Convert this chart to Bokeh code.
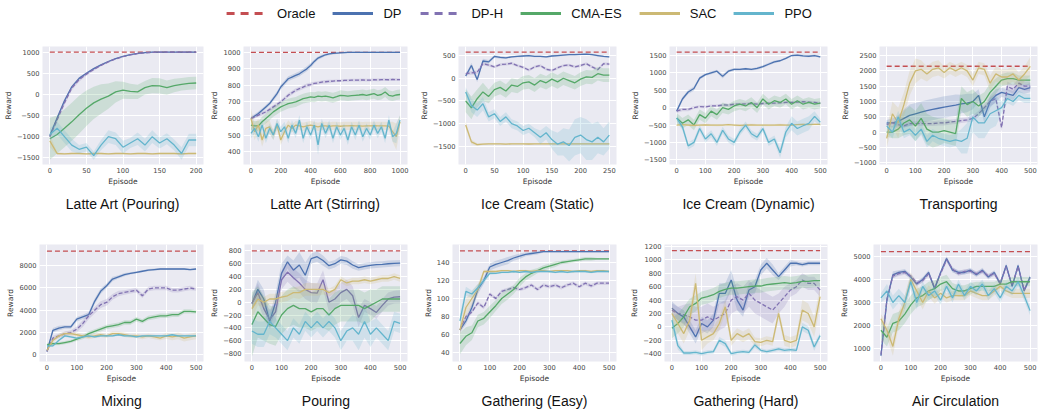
import numpy as np
from bokeh.plotting import figure
from bokeh.models import FixedTicker, Legend, LegendItem, Range1d
from bokeh.layouts import column, row
from bokeh.embed import file_html
from bokeh.resources import INLINE

METHODS = ["Oracle", "DP", "DP-H", "CMA-ES", "SAC", "PPO"]

# ---------------- Latte Art (Pouring) ----------------
LAP_X = list(range(0, 201, 10))
LAP_ORACLE = 1000
LAP_DP = [-980, -560, -150, 180, 380, 500, 610, 700, 780, 850, 900, 940, 970, 990, 1000, 1000, 1000, 1000, 1000, 1000, 1000]
LAP_DP_SD = [40, 40, 40, 30, 30, 25, 20, 20, 15, 15, 10, 10, 8, 5, 5, 5, 5, 5, 5, 5, 5]
LAP_DPH = [-1000, -600, -200, 150, 350, 480, 590, 690, 770, 840, 895, 935, 965, 985, 995, 1000, 1000, 1000, 1000, 1000, 1000]
LAP_DPH_SD = [60, 60, 60, 50, 50, 40, 30, 25, 20, 15, 12, 10, 8, 5, 5, 5, 5, 5, 5, 5, 5]
LAP_CMA = [-1050, -950, -800, -650, -480, -330, -200, -110, -40, 60, 100, 70, 60, 160, 210, 200, 160, 210, 240, 260, 270]
LAP_CMA_SD = [500, 450, 450, 450, 450, 420, 380, 350, 300, 250, 200, 180, 170, 160, 180, 180, 170, 160, 150, 150, 150]
LAP_SAC = [-1100, -1400, -1410, -1400, -1400, -1410, -1400, -1400, -1410, -1400, -1400, -1410, -1400, -1400, -1410, -1400, -1400, -1400, -1410, -1400, -1400]
LAP_SAC_SD = [150, 30, 20, 20, 20, 20, 20, 20, 20, 20, 20, 20, 20, 20, 20, 20, 20, 20, 20, 20, 20]
LAP_PPO = [-950, -800, -1000, -1200, -1300, -1250, -1450, -1200, -1000, -1050, -1250, -1150, -1050, -1200, -1000, -1150, -1050, -1200, -1400, -1080, -1080]
LAP_PPO_SD = [150, 150, 150, 150, 100, 100, 100, 120, 150, 150, 150, 120, 150, 150, 150, 130, 130, 130, 150, 150, 150]
LAP_XTICKS = [0, 50, 100, 150, 200]
LAP_YTICKS = [-1500, -1000, -500, 0, 500, 1000]

# ---------------- Latte Art (Stirring) ----------------
LAS_X = list(range(0, 1001, 25))
LAS_ORACLE = 1000
LAS_DP = [600, 615, 630, 650, 670, 690, 720, 750, 790, 815, 840, 850, 860, 870, 885, 900, 920, 945, 965, 975, 985, 990, 993, 995, 997, 998, 999, 1000, 1000, 1000, 1000, 1000, 1000, 1000, 1000, 1000, 1000, 1000, 1000, 1000, 1000]
LAS_DP_SD = [12, 12, 12, 12, 12, 12, 15, 15, 15, 15, 15, 15, 15, 15, 15, 15, 15, 12, 10, 10, 8, 8, 6, 6, 5, 5, 5, 5, 5, 5, 5, 5, 5, 5, 5, 5, 5, 5, 5, 5, 5]
LAS_DPH = [600, 610, 620, 630, 640, 655, 670, 685, 700, 720, 740, 755, 770, 780, 790, 800, 805, 812, 815, 820, 822, 824, 826, 828, 828, 830, 830, 832, 832, 832, 833, 832, 832, 834, 833, 835, 835, 834, 836, 835, 835]
LAS_DPH_SD = [10, 10, 10, 10, 10, 12, 12, 12, 12, 12, 12, 12, 12, 12, 12, 12, 12, 10, 10, 10, 10, 10, 8, 8, 8, 8, 8, 8, 8, 8, 8, 8, 8, 8, 8, 8, 8, 8, 8, 8, 8]
LAS_CMA = [560, 555, 555, 580, 600, 620, 640, 655, 670, 680, 690, 695, 700, 710, 720, 725, 730, 728, 735, 732, 735, 730, 725, 732, 740, 738, 735, 738, 740, 742, 745, 740, 745, 750, 740, 745, 760, 740, 735, 742, 745]
LAS_CMA_SD = [30, 30, 30, 30, 30, 30, 30, 30, 30, 30, 30, 30, 30, 30, 30, 30, 30, 30, 30, 30, 30, 30, 30, 30, 30, 30, 30, 30, 30, 30, 30, 30, 30, 30, 30, 30, 30, 30, 30, 30, 30]
LAS_SAC = [600, 520, 560, 470, 540, 550, 500, 560, 470, 520, 560, 540, 560, 555, 550, 555, 560, 555, 550, 555, 555, 552, 555, 555, 553, 555, 555, 556, 555, 555, 554, 555, 555, 556, 555, 555, 555, 554, 520, 490, 580]
LAS_SAC_SD = [60, 50, 40, 40, 40, 40, 30, 30, 30, 30, 30, 25, 25, 25, 25, 25, 25, 25, 25, 25, 25, 25, 25, 25, 25, 25, 25, 25, 25, 25, 25, 25, 25, 25, 25, 25, 25, 25, 60, 80, 40]
LAS_PPO = [510, 540, 490, 560, 480, 540, 500, 570, 520, 550, 480, 560, 510, 590, 480, 550, 500, 560, 440, 570, 510, 560, 480, 550, 500, 540, 470, 550, 500, 560, 490, 540, 500, 560, 510, 550, 480, 590, 490, 510, 590]
LAS_PPO_SD = [30, 30, 30, 30, 30, 30, 30, 30, 30, 30, 30, 30, 30, 30, 30, 30, 30, 30, 60, 30, 30, 30, 30, 30, 30, 30, 30, 30, 30, 30, 30, 30, 30, 30, 30, 30, 30, 30, 30, 60, 30]
LAS_XTICKS = [0, 200, 400, 600, 800, 1000]
LAS_YTICKS = [400, 500, 600, 700, 800, 900, 1000]

# ---------------- Ice Cream (Static) ----------------
ICS_X = list(range(0, 251, 10))
ICS_ORACLE = 575
ICS_DP = [50, 280, -30, 380, 360, 480, 460, 450, 470, 480, 490, 500, 480, 480, 470, 490, 500, 510, 520, 520, 525, 530, 520, 500, 480, 470]
ICS_DP_SD = [40, 60, 60, 50, 40, 30, 30, 20, 20, 20, 20, 20, 20, 20, 20, 20, 20, 20, 20, 20, 20, 20, 20, 20, 20, 20]
ICS_DPH = [100, 120, 130, 320, 290, 250, 300, 310, 330, 280, 240, 180, 250, 280, 200, 170, 230, 280, 290, 250, 280, 320, 250, 190, 320, 310]
ICS_DPH_SD = [40, 40, 40, 40, 30, 30, 30, 30, 30, 30, 30, 30, 30, 30, 30, 30, 30, 30, 30, 30, 30, 30, 30, 30, 30, 30]
ICS_CMA = [-500, -650, -450, -300, -400, -250, -200, -280, -150, -180, -100, -80, -150, -50, -100, -20, -80, 0, -50, -100, -20, 30, 20, 100, 70, 70]
ICS_CMA_SD = [250, 250, 200, 200, 150, 150, 150, 150, 150, 150, 150, 150, 150, 150, 150, 150, 150, 150, 150, 150, 150, 150, 150, 150, 150, 150]
ICS_SAC = [-1030, -1400, -1460, -1450, -1445, -1445, -1445, -1448, -1445, -1445, -1445, -1447, -1445, -1445, -1445, -1446, -1445, -1445, -1445, -1445, -1446, -1445, -1445, -1445, -1445, -1445]
ICS_SAC_SD = [80, 50, 30, 20, 20, 20, 20, 20, 20, 20, 20, 20, 20, 20, 20, 20, 20, 20, 20, 20, 20, 20, 20, 20, 20, 20]
ICS_PPO = [-300, -600, -700, -560, -850, -780, -950, -850, -1000, -1050, -1150, -1100, -1200, -1300, -1200, -1350, -1450, -1400, -1480, -1300, -1250, -1350, -1400, -1300, -1400, -1250]
ICS_PPO_SD = [100, 150, 150, 150, 100, 100, 100, 100, 100, 100, 100, 100, 100, 150, 150, 200, 250, 300, 350, 400, 400, 450, 400, 350, 300, 300]
ICS_XTICKS = [0, 50, 100, 150, 200, 250]
ICS_YTICKS = [-1500, -1000, -500, 0, 500]

# ---------------- Ice Cream (Dynamic) ----------------
ICD_X = list(range(0, 501, 20))
ICD_ORACLE = 1600
ICD_DP = [-100, 250, 450, 550, 850, 950, 1000, 1050, 900, 1050, 1100, 1100, 1120, 1100, 1130, 1180, 1250, 1320, 1350, 1420, 1500, 1510, 1490, 1480, 1500, 1460]
ICD_DP_SD = [60, 60, 60, 60, 50, 40, 40, 40, 60, 40, 40, 30, 30, 30, 40, 40, 40, 40, 30, 30, 30, 30, 30, 30, 30, 30]
ICD_DPH = [-100, -50, -50, 0, 30, 20, 50, 50, 80, 70, 100, 100, 110, 120, 100, 120, 130, 130, 140, 150, 150, 160, 170, 160, 150, 130]
ICD_DPH_SD = [50, 50, 50, 40, 40, 40, 40, 40, 40, 40, 40, 40, 40, 40, 40, 40, 40, 40, 40, 40, 40, 40, 40, 40, 40, 40]
ICD_CMA = [-300, -450, -350, -500, -200, -300, -100, -200, 0, -50, 50, 100, 50, 150, 0, 250, 100, 200, 150, 250, 100, 200, 100, 150, 100, 130]
ICD_CMA_SD = [150, 150, 150, 150, 150, 150, 150, 150, 150, 150, 150, 150, 150, 150, 150, 150, 150, 150, 150, 150, 150, 150, 150, 150, 150, 150]
ICD_SAC = [-500, -490, -500, -510, -500, -495, -500, -505, -500, -490, -500, -510, -500, -495, -500, -500, -505, -500, -495, -500, -500, -490, -480, -485, -480, -480]
ICD_SAC_SD = [30, 30, 30, 30, 30, 30, 30, 30, 30, 30, 30, 30, 30, 30, 30, 30, 30, 30, 30, 30, 30, 30, 30, 30, 30, 30]
ICD_PPO = [-300, -550, -1100, -1000, -600, -900, -750, -1000, -650, -900, -1000, -700, -500, -750, -850, -600, -1000, -900, -1300, -700, -450, -600, -520, -450, -250, -420]
ICD_PPO_SD = [100, 100, 100, 100, 100, 100, 100, 100, 100, 100, 100, 100, 100, 100, 100, 100, 100, 100, 150, 150, 200, 200, 200, 200, 150, 100]
ICD_XTICKS = [0, 100, 200, 300, 400, 500]
ICD_YTICKS = [-1500, -1000, -500, 0, 500, 1000, 1500]

# ---------------- Transporting ----------------
TRN_X = list(range(0, 501, 20))
TRN_ORACLE = 2150
TRN_DP = [300, 300, 350, 450, 550, 600, 650, 700, 740, 780, 820, 850, 880, 920, 950, 1000, 1200, 500, 1000, 1200, 1300, 1250, 1200, 1450, 1400, 1450]
TRN_DP_SD = [100, 150, 200, 300, 350, 350, 350, 350, 350, 350, 350, 350, 350, 300, 300, 250, 200, 200, 200, 200, 150, 150, 150, 150, 150, 150]
TRN_DPH = [250, 300, 250, 200, 280, 280, 280, 280, 280, 300, 300, 330, 350, 380, 400, 450, 600, 800, 1000, 1100, 150, 1500, 1400, 1600, 1500, 1500]
TRN_DPH_SD = [50, 50, 50, 50, 80, 80, 80, 80, 80, 80, 80, 80, 80, 80, 80, 100, 100, 100, 150, 150, 150, 150, 150, 150, 150, 150]
TRN_CMA = [0, 0, 100, 300, 400, 200, 450, 100, 0, 0, 50, 0, -50, 1100, 900, 1000, 850, 1000, 1300, 1500, 1700, 1750, 1750, 1700, 1700, 1700]
TRN_CMA_SD = [150, 200, 300, 400, 450, 500, 500, 500, 500, 450, 400, 400, 400, 400, 400, 400, 350, 300, 300, 250, 200, 200, 200, 150, 150, 150]
TRN_SAC = [-200, 600, 300, 900, 1600, 2000, 2050, 1900, 2050, 2100, 1950, 2100, 2000, 2100, 2000, 1700, 2100, 2050, 1600, 1900, 1800, 1800, 1900, 1700, 1900, 2150]
TRN_SAC_SD = [300, 400, 500, 400, 400, 400, 300, 250, 250, 250, 200, 200, 200, 200, 200, 200, 200, 200, 250, 250, 250, 250, 250, 250, 250, 300]
TRN_PPO = [200, 0, 500, 0, 100, -100, 100, -300, -100, -200, -250, -300, -250, -300, -200, 500, 300, 300, 600, 700, 800, 1100, 1000, 1200, 1100, 1100]
TRN_PPO_SD = [200, 200, 200, 200, 200, 200, 200, 200, 200, 200, 200, 200, 200, 400, 500, 500, 500, 500, 500, 500, 200, 150, 150, 150, 150, 150]
TRN_XTICKS = [0, 100, 200, 300, 400, 500]
TRN_YTICKS = [-1000, -500, 0, 500, 1000, 1500, 2000, 2500]

# ---------------- Mixing ----------------
MIX_X = list(range(0, 501, 20))
MIX_ORACLE = 9300
MIX_DP = [300, 2200, 2400, 2500, 2500, 3200, 3400, 3600, 4800, 5700, 6200, 6800, 7000, 7200, 7300, 7400, 7500, 7600, 7650, 7700, 7700, 7700, 7700, 7700, 7650, 7700]
MIX_DP_SD = [100, 200, 200, 150, 150, 200, 200, 250, 250, 250, 200, 200, 150, 150, 100, 100, 100, 100, 100, 80, 80, 80, 80, 80, 80, 80]
MIX_DPH = [300, 1500, 1700, 1900, 2000, 2300, 2800, 3500, 4000, 4500, 4700, 5200, 5500, 5600, 5700, 5800, 5300, 5900, 6000, 6000, 6000, 5800, 5800, 5900, 6000, 5900]
MIX_DPH_SD = [100, 200, 200, 200, 200, 250, 300, 300, 300, 300, 300, 250, 250, 200, 200, 200, 200, 200, 200, 200, 200, 200, 200, 200, 200, 150]
MIX_CMA = [900, 1000, 1000, 1100, 1200, 1400, 1600, 1900, 2100, 2300, 2500, 2600, 2700, 2900, 2900, 3200, 3000, 3300, 3400, 3500, 3500, 3600, 3600, 3900, 3900, 3850]
MIX_CMA_SD = [150, 150, 150, 150, 150, 150, 200, 200, 200, 200, 200, 200, 200, 200, 200, 200, 200, 200, 200, 200, 200, 200, 200, 200, 200, 150]
MIX_SAC = [400, 1300, 1700, 1900, 1900, 1800, 1700, 1600, 1700, 1800, 1700, 1900, 1900, 1800, 1700, 1700, 1600, 1700, 1600, 1500, 1700, 1600, 1700, 1500, 1600, 1700]
MIX_SAC_SD = [150, 200, 200, 200, 200, 200, 200, 200, 200, 200, 200, 200, 200, 200, 200, 200, 200, 200, 200, 200, 250, 300, 300, 300, 300, 300]
MIX_PPO = [800, 800, 1300, 1700, 1600, 1500, 1600, 1700, 1600, 1700, 1700, 1700, 1800, 1700, 1700, 1600, 1700, 1700, 1700, 1700, 1700, 1800, 1700, 1700, 1700, 1700]
MIX_PPO_SD = [100, 100, 100, 100, 100, 100, 100, 100, 100, 100, 100, 100, 100, 100, 100, 100, 100, 100, 100, 100, 100, 100, 100, 100, 100, 100]
MIX_XTICKS = [0, 100, 200, 300, 400, 500]
MIX_YTICKS = [0, 2000, 4000, 6000, 8000]

# ---------------- Pouring ----------------
POU_X = list(range(0, 501, 20))
POU_ORACLE = 800
POU_DP = [-20, 200, 50, -300, 0, 450, 630, 500, 580, 420, 680, 710, 650, 570, 600, 660, 640, 580, 540, 560, 575, 585, 590, 600, 605, 610]
POU_DP_SD = [100, 150, 150, 100, 150, 150, 100, 150, 200, 200, 80, 80, 80, 60, 60, 60, 60, 60, 50, 50, 50, 50, 50, 50, 50, 50]
POU_DPH = [-20, 150, -100, -270, -150, 350, 470, 380, 300, 200, 150, 140, 350, 0, 50, 150, 200, 100, -240, -50, -100, -160, -50, 50, 80, 85]
POU_DPH_SD = [100, 150, 150, 150, 150, 150, 150, 150, 150, 150, 150, 150, 150, 150, 150, 150, 150, 150, 150, 100, 100, 100, 100, 100, 100, 100]
POU_CMA = [-350, -150, -250, -350, -380, -200, -100, -50, -100, -100, -150, -100, -100, -200, -100, -50, -50, -50, -50, -100, -50, 0, 50, 50, 50, 50]
POU_CMA_SD = [500, 400, 350, 300, 300, 300, 300, 300, 300, 300, 300, 300, 300, 250, 250, 250, 250, 250, 250, 250, 250, 200, 200, 200, 200, 200]
POU_SAC = [-100, 50, 0, 50, 50, 80, 100, 150, 150, 200, 200, 200, 200, 150, 200, 350, 300, 330, 330, 350, 330, 350, 370, 370, 400, 370]
POU_SAC_SD = [150, 100, 80, 80, 80, 80, 80, 80, 100, 100, 100, 100, 80, 60, 60, 50, 50, 50, 50, 50, 50, 50, 50, 50, 50, 50]
POU_PPO = [-450, -500, -500, -300, -400, -500, -600, -400, -500, -300, -400, -300, -400, -300, -400, -600, -450, -400, -500, -300, -500, -400, -500, -600, -300, -330]
POU_PPO_SD = [200, 200, 200, 200, 150, 150, 150, 150, 150, 150, 150, 150, 150, 150, 150, 150, 150, 200, 250, 250, 200, 150, 150, 150, 150, 150]
POU_XTICKS = [0, 100, 200, 300, 400, 500]
POU_YTICKS = [-800, -600, -400, -200, 0, 200, 400, 600, 800]

# ---------------- Gathering (Easy) ----------------
GAE_X = list(range(0, 501, 20))
GAE_ORACLE = 153
GAE_DP = [65, 75, 90, 110, 120, 135, 138, 140, 142, 145, 147, 149, 150, 151, 152, 152, 152, 152, 152, 152, 152, 152, 152, 152, 152, 152]
GAE_DP_SD = [3, 4, 5, 5, 4, 4, 4, 4, 4, 3, 3, 2, 2, 2, 1, 1, 1, 1, 1, 1, 1, 1, 1, 1, 1, 1]
GAE_DPH = [65, 80, 85, 95, 90, 105, 100, 108, 110, 112, 110, 112, 115, 110, 115, 113, 115, 112, 115, 117, 113, 117, 114, 117, 117, 117]
GAE_DPH_SD = [2, 2, 2, 2, 2, 2, 2, 2, 2, 2, 2, 2, 2, 2, 2, 2, 2, 2, 2, 2, 2, 2, 2, 2, 2, 2]
GAE_CMA = [50, 58, 62, 75, 78, 85, 92, 100, 105, 110, 118, 124, 128, 131, 134, 136, 138, 140, 141, 142, 143, 144, 144, 144, 144, 144]
GAE_CMA_SD = [12, 10, 8, 7, 7, 7, 6, 6, 6, 5, 5, 4, 4, 3, 3, 3, 3, 2, 2, 2, 2, 2, 2, 1, 1, 1]
GAE_SAC = [65, 90, 100, 110, 130, 130, 130, 131, 131, 130, 131, 131, 130, 131, 131, 130, 131, 131, 131, 130, 131, 131, 130, 131, 131, 130]
GAE_SAC_SD = [5, 10, 8, 6, 2, 2, 1, 1, 1, 1, 1, 1, 1, 1, 1, 1, 1, 1, 1, 1, 1, 1, 1, 1, 1, 1]
GAE_PPO = [75, 108, 105, 112, 120, 128, 128, 129, 129, 130, 129, 130, 129, 130, 130, 130, 129, 130, 129, 130, 130, 130, 129, 130, 130, 130]
GAE_PPO_SD = [8, 5, 4, 4, 3, 2, 1, 1, 1, 1, 1, 1, 1, 1, 1, 1, 1, 1, 1, 1, 1, 1, 1, 1, 1, 1]
GAE_XTICKS = [0, 100, 200, 300, 400, 500]
GAE_YTICKS = [40, 60, 80, 100, 120, 140]

# ---------------- Gathering (Hard) ----------------
GAH_X = list(range(0, 501, 20))
GAH_ORACLE = 1140
GAH_DP = [280, 200, 150, 0, -150, 50, 0, 100, 500, 500, 700, 400, 250, 550, 600, 850, 950, 850, 750, 850, 950, 950, 930, 950, 950, 950]
GAH_DP_SD = [100, 100, 100, 100, 100, 100, 100, 100, 150, 150, 150, 150, 100, 100, 100, 80, 80, 80, 50, 50, 50, 30, 30, 30, 30, 30]
GAH_DPH = [250, 200, 180, 150, 100, 100, 150, 100, 150, 200, 400, 450, 400, 500, 400, 350, 300, 250, 350, 450, 550, 600, 700, 650, 650, 550]
GAH_DPH_SD = [100, 100, 150, 200, 200, 200, 200, 200, 200, 200, 200, 200, 200, 200, 200, 200, 200, 200, 150, 150, 100, 100, 100, 100, 100, 100]
GAH_CMA = [-20, 50, 150, 300, 350, 430, 450, 480, 530, 560, 580, 580, 590, 600, 610, 610, 630, 640, 650, 660, 650, 660, 680, 680, 690, 690]
GAH_CMA_SD = [150, 150, 150, 120, 120, 100, 100, 100, 100, 100, 100, 100, 100, 100, 100, 100, 100, 100, 100, 100, 100, 100, 100, 100, 100, 100]
GAH_SAC = [200, 50, -100, 100, 650, -200, -150, -100, 50, 300, -200, -100, -150, -100, -220, -230, -200, -220, 200, -200, -230, -200, 250, 200, 0, 450]
GAH_SAC_SD = [100, 150, 150, 150, 150, 150, 100, 100, 100, 100, 80, 80, 80, 80, 60, 60, 60, 60, 80, 80, 80, 80, 150, 150, 150, 150]
GAH_PPO = [100, -280, -390, -390, -380, -400, -380, -370, -200, -250, -400, -380, -370, -380, -270, -350, -370, -350, -330, -350, -340, -350, 0, -50, -300, -130]
GAH_PPO_SD = [100, 60, 30, 30, 30, 30, 30, 30, 50, 50, 30, 30, 30, 30, 40, 30, 30, 30, 30, 30, 30, 30, 60, 60, 60, 40]
GAH_XTICKS = [0, 100, 200, 300, 400, 500]
GAH_YTICKS = [-400, -200, 0, 200, 400, 600, 800, 1000, 1200]

# ---------------- Air Circulation ----------------
AIR_X = list(range(0, 501, 20))
AIR_ORACLE = 5200
AIR_DP = [700, 3100, 4200, 4300, 4350, 4100, 3800, 4000, 4300, 3600, 4300, 4900, 4400, 4300, 4300, 4400, 4200, 4400, 4100, 4300, 3800, 4600, 3700, 4600, 3500, 4100]
AIR_DP_SD = [100, 150, 150, 100, 100, 100, 100, 100, 100, 100, 100, 100, 100, 100, 100, 100, 100, 100, 100, 100, 100, 100, 100, 100, 100, 100]
AIR_DPH = [750, 3150, 4150, 4250, 4300, 4150, 3850, 3950, 4250, 3650, 4250, 4850, 4450, 4250, 4350, 4350, 4250, 4350, 4150, 4250, 3850, 4550, 3750, 4550, 3550, 4050]
AIR_DPH_SD = [100, 100, 100, 100, 100, 100, 100, 100, 100, 100, 100, 100, 100, 100, 100, 100, 100, 100, 100, 100, 100, 100, 100, 100, 100, 100]
AIR_CMA = [1800, 1500, 2100, 2200, 2500, 2900, 3200, 3300, 3500, 3600, 3800, 3900, 3600, 3500, 3500, 3600, 3700, 3700, 3700, 3700, 3800, 3800, 3900, 3900, 3900, 3900]
AIR_CMA_SD = [400, 400, 400, 400, 400, 400, 400, 400, 400, 350, 300, 300, 250, 250, 250, 250, 200, 200, 200, 200, 200, 200, 200, 200, 200, 200]
AIR_SAC = [2300, 1800, 1100, 2300, 3000, 4000, 3500, 3000, 3500, 3200, 3400, 3200, 3300, 3300, 3300, 3500, 3400, 3300, 3300, 3500, 3700, 3500, 3400, 3400, 3400, 3400]
AIR_SAC_SD = [200, 300, 400, 300, 300, 300, 300, 300, 250, 250, 200, 200, 200, 200, 200, 200, 200, 200, 200, 200, 200, 200, 200, 200, 200, 200]
AIR_PPO = [3200, 3500, 3000, 3300, 3000, 3900, 3000, 3700, 3300, 3500, 3100, 3700, 3200, 3800, 3300, 3700, 3500, 3800, 3300, 3600, 3200, 3700, 3500, 3900, 3300, 2650]
AIR_PPO_SD = [200, 300, 300, 300, 300, 300, 300, 200, 200, 200, 200, 200, 200, 200, 200, 200, 200, 200, 200, 200, 200, 200, 200, 200, 200, 200]
AIR_XTICKS = [0, 100, 200, 300, 400, 500]
AIR_YTICKS = [1000, 2000, 3000, 4000, 5000]

# ---------------- styles ----------------
COLORS = {"Oracle": "#C44E52", "DP": "#4C72B0", "DP-H": "#8172B2",
          "CMA-ES": "#55A868", "SAC": "#CCB974", "PPO": "#64B5CD"}
DASH = {"Oracle": "5 3", "DP": "solid", "DP-H": "4 2", "CMA-ES": "solid", "SAC": "solid", "PPO": "solid"}
LEGEND_DASH = {"Oracle": "8 6", "DP": "solid", "DP-H": "8 6", "CMA-ES": "solid", "SAC": "solid", "PPO": "solid"}

PANELS = [
    dict(title="Latte Art (Pouring)", x=LAP_X, oracle=LAP_ORACLE, xt=LAP_XTICKS, yt=LAP_YTICKS, yr=(-1660, 1135),
         s=[(LAP_DP, LAP_DP_SD), (LAP_DPH, LAP_DPH_SD), (LAP_CMA, LAP_CMA_SD), (LAP_SAC, LAP_SAC_SD), (LAP_PPO, LAP_PPO_SD)]),
    dict(title="Latte Art (Stirring)", x=LAS_X, oracle=LAS_ORACLE, xt=LAS_XTICKS, yt=LAS_YTICKS, yr=(322, 1035),
         s=[(LAS_DP, LAS_DP_SD), (LAS_DPH, LAS_DPH_SD), (LAS_CMA, LAS_CMA_SD), (LAS_SAC, LAS_SAC_SD), (LAS_PPO, LAS_PPO_SD)]),
    dict(title="Ice Cream (Static)", x=ICS_X, oracle=ICS_ORACLE, xt=ICS_XTICKS, yt=ICS_YTICKS, yr=(-1898, 699),
         s=[(ICS_DP, ICS_DP_SD), (ICS_DPH, ICS_DPH_SD), (ICS_CMA, ICS_CMA_SD), (ICS_SAC, ICS_SAC_SD), (ICS_PPO, ICS_PPO_SD)]),
    dict(title="Ice Cream (Dynamic)", x=ICD_X, oracle=ICD_ORACLE, xt=ICD_XTICKS, yt=ICD_YTICKS, yr=(-1635, 1760),
         s=[(ICD_DP, ICD_DP_SD), (ICD_DPH, ICD_DPH_SD), (ICD_CMA, ICD_CMA_SD), (ICD_SAC, ICD_SAC_SD), (ICD_PPO, ICD_PPO_SD)]),
    dict(title="Transporting", x=TRN_X, oracle=TRN_ORACLE, xt=TRN_XTICKS, yt=TRN_YTICKS, yr=(-1055, 2795),
         s=[(TRN_DP, TRN_DP_SD), (TRN_DPH, TRN_DPH_SD), (TRN_CMA, TRN_CMA_SD), (TRN_SAC, TRN_SAC_SD), (TRN_PPO, TRN_PPO_SD)]),
    dict(title="Mixing", x=MIX_X, oracle=MIX_ORACLE, xt=MIX_XTICKS, yt=MIX_YTICKS, yr=(-600, 9900),
         s=[(MIX_DP, MIX_DP_SD), (MIX_DPH, MIX_DPH_SD), (MIX_CMA, MIX_CMA_SD), (MIX_SAC, MIX_SAC_SD), (MIX_PPO, MIX_PPO_SD)]),
    dict(title="Pouring", x=POU_X, oracle=POU_ORACLE, xt=POU_XTICKS, yt=POU_YTICKS, yr=(-925, 900), dph_dash="solid",
         s=[(POU_DP, POU_DP_SD), (POU_DPH, POU_DPH_SD), (POU_CMA, POU_CMA_SD), (POU_SAC, POU_SAC_SD), (POU_PPO, POU_PPO_SD)]),
    dict(title="Gathering (Easy)", x=GAE_X, oracle=GAE_ORACLE, xt=GAE_XTICKS, yt=GAE_YTICKS, yr=(30, 160),
         s=[(GAE_DP, GAE_DP_SD), (GAE_DPH, GAE_DPH_SD), (GAE_CMA, GAE_CMA_SD), (GAE_SAC, GAE_SAC_SD), (GAE_PPO, GAE_PPO_SD)]),
    dict(title="Gathering (Hard)", x=GAH_X, oracle=GAH_ORACLE, xt=GAH_XTICKS, yt=GAH_YTICKS, yr=(-517, 1230),
         s=[(GAH_DP, GAH_DP_SD), (GAH_DPH, GAH_DPH_SD), (GAH_CMA, GAH_CMA_SD), (GAH_SAC, GAH_SAC_SD), (GAH_PPO, GAH_PPO_SD)]),
    dict(title="Air Circulation", x=AIR_X, oracle=AIR_ORACLE, xt=AIR_XTICKS, yt=AIR_YTICKS, yr=(450, 5510),
         s=[(AIR_DP, AIR_DP_SD), (AIR_DPH, AIR_DPH_SD), (AIR_CMA, AIR_CMA_SD), (AIR_SAC, AIR_SAC_SD), (AIR_PPO, AIR_PPO_SD)]),
]

# column geometry: (figure width, left border, right border)
COLS = [(207, 39, 4), (209, 36, 9), (211, 36, 11), (210, 36, 10), (201, 36, 1)]
# row geometry: (figure height, top border, bottom border)
ROWS = [(194, 20, 56), (195, 24, 54)]


def fmt(v):
    return str(v).replace("-", "\u2212")


def make_panel(spec, col, rw):
    w, bl, br = col
    h, bt, bb = rw
    xs = spec["x"]
    xmax = max(xs)
    p = figure(width=w, height=h, output_backend="svg", toolbar_location=None,
               x_range=Range1d(-0.05 * xmax, 1.05 * xmax), y_range=Range1d(*spec["yr"]),
               min_border_left=bl, min_border_right=br, min_border_top=bt, min_border_bottom=bb,
               title=spec["title"], title_location="below")
    p.background_fill_color = "#EAEAF2"
    p.border_fill_color = "white"
    p.outline_line_color = None
    p.grid.grid_line_color = "white"
    p.grid.grid_line_width = 1
    p.xaxis.ticker = FixedTicker(ticks=spec["xt"])
    p.yaxis.ticker = FixedTicker(ticks=spec["yt"])
    p.xaxis.major_label_overrides = {v: fmt(v) for v in spec["xt"]}
    p.yaxis.major_label_overrides = {v: fmt(v) for v in spec["yt"]}
    p.xaxis.axis_label = "Episode"
    p.yaxis.axis_label = "Reward"
    for ax in (p.xaxis[0], p.yaxis[0]):
        ax.axis_line_color = None
        ax.major_tick_line_color = None
        ax.minor_tick_line_color = None
        ax.major_tick_out = 0
        ax.major_tick_in = 0
        ax.major_label_standoff = 3
        ax.axis_label_standoff = 1
        ax.major_label_text_font = "DejaVu Sans"
        ax.major_label_text_font_size = "6.7px"
        ax.major_label_text_color = "#444444"
        ax.axis_label_text_font = "DejaVu Sans"
        ax.axis_label_text_font_size = "7.5px"
        ax.axis_label_text_font_style = "normal"
        ax.axis_label_text_color = "#333333"
    p.title.align = "center"
    p.title.offset = -5
    p.title.standoff = 11
    p.title.text_font = "Liberation Sans"
    p.title.text_font_size = "14px"
    p.title.text_font_style = "normal"
    p.title.text_color = "#111111"

    p.line([xs[0], xs[-1]], [spec["oracle"], spec["oracle"]], line_color=COLORS["Oracle"],
           line_dash=DASH["Oracle"], line_width=1.3)
    for name, (y, sd) in zip(METHODS[1:], spec["s"]):
        ya = np.array(y, dtype=float)
        sa = np.array(sd, dtype=float)
        dash = DASH[name]
        if name == "DP-H":
            dash = spec.get("dph_dash", dash)
        p.varea(x=xs, y1=ya - sa, y2=ya + sa, fill_color=COLORS[name], fill_alpha=0.2)
        p.line(xs, y, line_color=COLORS[name], line_dash=dash, line_width=1.3)
    return p


# legend strip (proxy renderers sit outside the visible range; only their legend glyphs show)
lg = figure(width=1038, height=26, output_backend="svg", toolbar_location=None,
            x_range=Range1d(0, 1), y_range=Range1d(0, 1), min_border=0)
lg.axis.visible = False
lg.grid.visible = False
lg.outline_line_color = None
items = []
for name in METHODS:
    r = lg.line([5, 6], [5, 5], line_color=COLORS[name], line_width=3, line_dash=LEGEND_DASH[name])
    items.append(LegendItem(label=name, renderers=[r]))
legend = Legend(items=items, orientation="horizontal", location="center",
                glyph_width=41, glyph_height=16, label_height=16, label_standoff=10, spacing=17,
                padding=0, margin=0, border_line_color=None, background_fill_alpha=0,
                label_text_font="Liberation Sans", label_text_font_size="13px", label_text_color="#111111")
lg.add_layout(legend, "center")

rows = []
for ri in range(2):
    figs = [make_panel(PANELS[ri * 5 + ci], COLS[ci], ROWS[ri]) for ci in range(5)]
    rows.append(row(*figs))

layout = column(lg, *rows)
open("out.html", "w").write(file_html(layout, INLINE))
